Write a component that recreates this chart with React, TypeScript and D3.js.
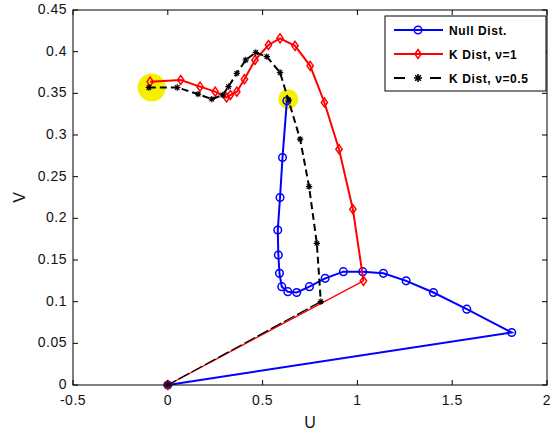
import * as d3 from 'd3'

const xTicks = [-0.5, 0, 0.5, 1, 1.5, 2]
const yTicks = [0, 0.05, 0.1, 0.15, 0.2, 0.25, 0.3, 0.35, 0.4, 0.45]

// Null Dist.
const nullU = [0.628, 0.605, 0.592, 0.58, 0.583, 0.589, 0.601, 0.633, 0.68, 0.747, 0.83, 0.926, 1.028, 1.137, 1.257, 1.401, 1.577, 1.814, 0]
const nullV = [0.341, 0.273, 0.225, 0.186, 0.156, 0.134, 0.118, 0.112, 0.111, 0.118, 0.128, 0.136, 0.136, 0.134, 0.125, 0.111, 0.091, 0.063, 0]

// K Dist, v=1
const k1U = [-0.093, 0.068, 0.17, 0.25, 0.31, 0.33, 0.364, 0.404, 0.46, 0.531, 0.592, 0.671, 0.751, 0.826, 0.903, 0.976, 1.032, 0]
const k1V = [0.364, 0.366, 0.358, 0.352, 0.345, 0.348, 0.352, 0.367, 0.39, 0.408, 0.416, 0.407, 0.383, 0.339, 0.283, 0.211, 0.125, 0]

// K Dist, v=0.5
const k05U = [-0.1, 0.05, 0.16, 0.232, 0.29, 0.32, 0.364, 0.411, 0.464, 0.522, 0.592, 0.636, 0.698, 0.745, 0.786, 0.807, 0]
const k05V = [0.357, 0.357, 0.349, 0.343, 0.348, 0.358, 0.374, 0.39, 0.399, 0.394, 0.375, 0.342, 0.295, 0.238, 0.17, 0.1, 0]

const highlights = [
  { u: -0.085, v: 0.357, r: 14 },
  { u: 0.635, v: 0.343, r: 10 },
]

const legendLabels = ['Null Dist.', 'K Dist, \u03bd=1', 'K Dist, \u03bd=0.5']

const W = 558, H = 434
const margin = { top: 10, right: 11, bottom: 49, left: 73 }

export default function App() {
  const x = d3.scaleLinear().domain([-0.5, 2]).range([margin.left, W - margin.right])
  const y = d3.scaleLinear().domain([0, 0.45]).range([H - margin.bottom, margin.top])
  const zip = (us: number[], vs: number[]) => us.map((u, i) => [u, vs[i]] as [number, number])
  const line = d3.line<[number, number]>().x(d => x(d[0])).y(d => y(d[1]))

  const nullPts = zip(nullU, nullV)
  const k1Pts = zip(k1U, k1V)
  const k05Pts = zip(k05U, k05V)

  const x0 = margin.left, x1 = W - margin.right, y0 = margin.top, y1 = H - margin.bottom
  const font = 'Arial, "Liberation Sans", Helvetica, sans-serif'

  const diamond = (cx: number, cy: number, s: number) =>
    `M${cx},${cy - s}L${cx + s * 0.7},${cy}L${cx},${cy + s}L${cx - s * 0.7},${cy}Z`
  const star = (cx: number, cy: number, s: number) => {
    let p = `M${cx - s},${cy}L${cx + s},${cy}`
    p += `M${cx - s * 0.7},${cy - s * 0.7}L${cx + s * 0.7},${cy + s * 0.7}`
    p += `M${cx - s * 0.7},${cy + s * 0.7}L${cx + s * 0.7},${cy - s * 0.7}`
    p += `M${cx},${cy - s}L${cx},${cy + s}`
    return p
  }

  // legend box
  const lx = 385, ly = 16, lw = 161, lh = 75

  return (
    <svg width={W} height={H} style={{ position: 'absolute', left: 0, top: 0, background: '#fff' }} fontFamily={font}>
      <rect x={0} y={0} width={W} height={H} fill="#fff" />
      {highlights.map((h, i) => (
        <circle key={i} cx={x(h.u)} cy={y(h.v)} r={h.r} fill="#f5ef00" />
      ))}

      {/* Null Dist */}
      <path d={line(nullPts) || ''} fill="none" stroke="#0000ff" strokeWidth={2} />
      {nullPts.map((d, i) => (
        <circle key={i} cx={x(d[0])} cy={y(d[1])} r={3.8} fill="none" stroke="#0000ff" strokeWidth={1.5} />
      ))}

      {/* K Dist v=1 */}
      <path d={line(k1Pts.slice(0, k1Pts.length - 1)) || ''} fill="none" stroke="#ff0000" strokeWidth={2} />
      <path d={line(k1Pts.slice(k1Pts.length - 2)) || ''} fill="none" stroke="#ff0000" strokeWidth={1.3} />
      {k1Pts.map((d, i) => (
        <path key={i} d={diamond(x(d[0]), y(d[1]), 4.5)} fill="none" stroke="#ff0000" strokeWidth={1.5} />
      ))}

      {/* K Dist v=0.5 */}
      <path d={line(k05Pts.slice(0, k05Pts.length - 1)) || ''} fill="none" stroke="#000" strokeWidth={2} strokeDasharray="7,4" />
      <path d={line(k05Pts.slice(k05Pts.length - 2)) || ''} fill="none" stroke="#000" strokeWidth={1.3} strokeDasharray="12,3" />
      {k05Pts.map((d, i) => (
        <path key={i} d={star(x(d[0]), y(d[1]), 3.2)} fill="none" stroke="#000" strokeWidth={1.2} />
      ))}

      {/* axes box and ticks */}
      <rect x={x0} y={y0} width={x1 - x0} height={y1 - y0} fill="none" stroke="#000" strokeWidth={1} />
      {xTicks.map(t => (
        <g key={'x' + t}>
          <line x1={x(t)} x2={x(t)} y1={y1} y2={y1 - 5} stroke="#000" />
          <line x1={x(t)} x2={x(t)} y1={y0} y2={y0 + 5} stroke="#000" />
          <text x={x(t)} y={y1 + 20} textAnchor="middle" fontSize={14} letterSpacing={0.5} fill="#111">{t}</text>
        </g>
      ))}
      {yTicks.map(t => (
        <g key={'y' + t}>
          <line x1={x0} x2={x0 + 5} y1={y(t)} y2={y(t)} stroke="#000" />
          <line x1={x1} x2={x1 - 5} y1={y(t)} y2={y(t)} stroke="#000" />
          <text x={x0 - 6} y={y(t) + 4} textAnchor="end" fontSize={14} letterSpacing={0.5} fill="#111">{t}</text>
        </g>
      ))}
      <text x={(x0 + x1) / 2} y={H - 6} textAnchor="middle" fontSize={16} fill="#111">U</text>
      <text transform={`translate(25,${(y0 + y1) / 2}) rotate(-90)`} textAnchor="middle" fontSize={16} fill="#111">V</text>

      {/* legend */}
      <rect x={lx} y={ly} width={lw} height={lh} fill="#fff" stroke="#000" strokeWidth={1} />
      {legendLabels.map((lab, i) => {
        const cy = ly + 14 + i * 24
        const mx = lx + 33
        return (
          <g key={lab}>
            {i === 0 && <>
              <line x1={lx + 9} x2={lx + 58} y1={cy} y2={cy} stroke="#0000ff" strokeWidth={2} />
              <circle cx={mx} cy={cy} r={3.8} fill="none" stroke="#0000ff" strokeWidth={1.5} />
            </>}
            {i === 1 && <>
              <line x1={lx + 9} x2={lx + 58} y1={cy} y2={cy} stroke="#ff0000" strokeWidth={2} />
              <path d={diamond(mx, cy, 4.5)} fill="none" stroke="#ff0000" strokeWidth={1.5} />
            </>}
            {i === 2 && <>
              <line x1={lx + 9} x2={lx + 58} y1={cy} y2={cy} stroke="#000" strokeWidth={2} strokeDasharray="11,25" />
              <path d={star(mx, cy, 4)} fill="none" stroke="#000" strokeWidth={1.6} />
            </>}
            <text x={lx + 64} y={cy + 4.5} fontSize={12} fontWeight="bold" letterSpacing={0.6} fill="#000">{lab}</text>
          </g>
        )
      })}
    </svg>
  )
}
